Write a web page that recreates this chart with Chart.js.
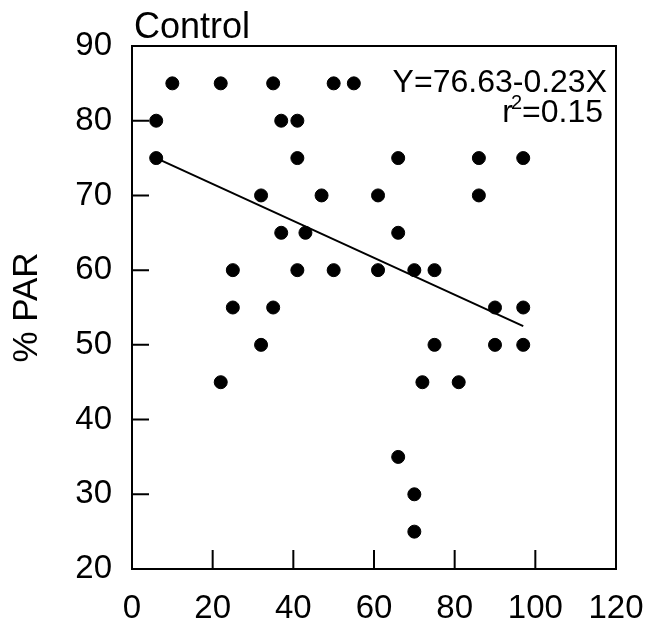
<!DOCTYPE html>
<html>
<head>
<meta charset="utf-8">
<script src="https://cdn.jsdelivr.net/npm/chart.js@4"></script>
<style>
  body { margin: 0; background: #fff; }
  #wrap { width: 651px; height: 633px; position: relative; }
</style>
</head>
<body>
<div id="wrap"><canvas id="myChart"></canvas></div>
<script>
// data
const xValues = [10, 22, 35, 50, 55,
                 6, 37, 41,
                 6, 41, 66, 86, 97,
                 32, 47, 61, 86,
                 37, 43, 66,
                 25, 41, 50, 61, 70, 75,
                 25, 35, 90, 97,
                 32, 75, 90, 97,
                 22, 72, 81,
                 66, 70, 70];
const yValues = [85, 85, 85, 85, 85,
                 80, 80, 80,
                 75, 75, 75, 75, 75,
                 70, 70, 70, 70,
                 65, 65, 65,
                 60, 60, 60, 60, 60, 60,
                 55, 55, 55, 55,
                 50, 50, 50, 50,
                 45, 45, 45,
                 35, 30, 25];
const fitX = [6, 97];
const fitY = [75, 52.5];
const xTicks = [0, 20, 40, 60, 80, 100, 120];
const yTicks = [20, 30, 40, 50, 60, 70, 80, 90];

const FONT = "'Liberation Sans', Arial, sans-serif";

// frame, inward tick marks and the text labels
const decor = {
    id: 'decor',
    afterDraw(chart) {
        const c = chart.ctx;
        const a = chart.chartArea;
        const xs = chart.scales.x, ys = chart.scales.y;
        c.save();
        c.strokeStyle = '#000';
        c.lineWidth = 2;
        c.strokeRect(a.left, a.top, a.right - a.left, a.bottom - a.top);
        c.beginPath();
        xTicks.slice(1, -1).forEach(v => {
            const px = xs.getPixelForValue(v);
            c.moveTo(px, a.bottom);
            c.lineTo(px, a.bottom - 19);
        });
        yTicks.slice(1, -1).forEach(v => {
            const py = ys.getPixelForValue(v);
            c.moveTo(a.left, py);
            c.lineTo(a.left + 17, py);
        });
        c.stroke();

        c.fillStyle = '#000';
        c.textBaseline = 'alphabetic';
        c.font = '36px ' + FONT;
        c.textAlign = 'left';
        c.fillText('Control', 134, 38);

        c.font = '32px ' + FONT;
        c.textAlign = 'right';
        c.fillText('Y=76.63-0.23X', 607, 92);
        // r² = 0.15 with superscript
        const tail = '=0.15';
        const right = 603;
        c.fillText(tail, right, 122);
        const wTail = c.measureText(tail).width;
        c.font = '20px ' + FONT;
        c.fillText('2', right - wTail, 109);
        const w2 = c.measureText('2').width;
        c.font = '32px ' + FONT;
        c.fillText('r', right - wTail - w2 + 2, 122);
        c.restore();
    }
};

const ctx = document.getElementById('myChart').getContext('2d');
const myChart = new Chart(ctx, {
    type: 'scatter',
    data: {
        datasets: [{
            label: 'PAR',
            data: xValues.map((x, i) => ({ x: x, y: yValues[i] })),
            backgroundColor: '#000',
            borderColor: '#000',
            pointRadius: 6.5,
            pointHoverRadius: 6.5
        }, {
            label: 'fit',
            type: 'line',
            data: fitX.map((x, i) => ({ x: x, y: fitY[i] })),
            borderColor: '#000',
            borderWidth: 2,
            pointRadius: 0,
            fill: false
        }]
    },
    options: {
        responsive: true,
        maintainAspectRatio: false,
        animation: false,
        layout: { padding: { top: 46, right: 35, left: 0, bottom: 0 } },
        plugins: {
            legend: { display: false },
            tooltip: { enabled: false }
        },
        scales: {
            x: {
                type: 'linear',
                min: 0,
                max: 120,
                afterBuildTicks: s => { s.ticks = xTicks.map(v => ({ value: v })); },
                afterFit: s => { s.height = 64; s.paddingLeft = 0; s.paddingRight = 0; },
                grid: { display: false, drawTicks: false, tickLength: 0 },
                border: { display: false },
                ticks: { color: '#000', padding: 20, maxRotation: 0, font: { size: 33, family: FONT } }
            },
            y: {
                min: 20,
                max: 90,
                afterBuildTicks: s => { s.ticks = yTicks.map(v => ({ value: v })); },
                afterFit: s => { s.width = 132; s.paddingTop = 0; s.paddingBottom = 0; },
                grid: { display: false, drawTicks: false, tickLength: 0 },
                border: { display: false },
                ticks: { color: '#000', padding: 20, font: { size: 33, family: FONT } },
                title: {
                    display: true,
                    text: '% PAR',
                    color: '#000',
                    padding: { top: 6, bottom: 0 },
                    font: { size: 35, family: FONT }
                }
            }
        }
    },
    plugins: [decor]
});
</script>
</body>
</html>
